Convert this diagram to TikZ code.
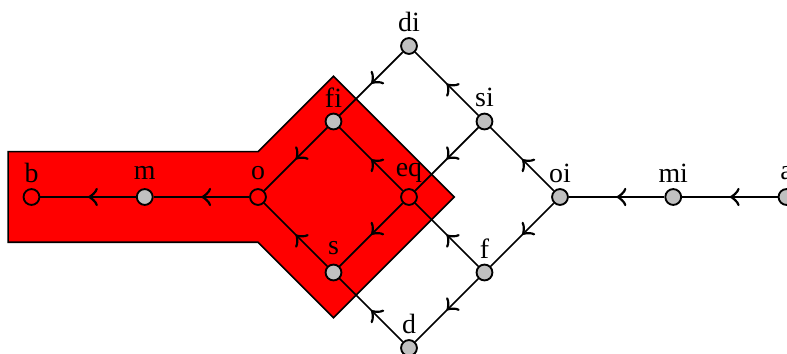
\documentclass[tikz,border=0pt]{standalone}
\usepackage{fontspec}
\setmainfont{Liberation Serif}
\usetikzlibrary{decorations.markings}
\definecolor{nodegray}{RGB}{192,192,192}
\tikzset{
  rel/.style={circle, draw=black, line width=0.7pt, minimum size=0.21cm, inner sep=0pt, fill=nodegray,
    label={[anchor=center, label distance=0.2cm, font=\fontsize{10.5}{12}\selectfont]above:#1}},
  redrel/.style={rel=#1, fill=red},
  edge/.style={line width=0.65pt, postaction={decorate, decoration={markings, mark=at position 0.5 with {\arrow[scale=1.6]{to}}}}},
  region/.style={fill=red, draw=black, line width=0.6pt}
}
\begin{document}
\begin{tikzpicture}
\useasboundingbox (-3.417,-2.079) rectangle (7.007,2.609);
\draw[region] (-3.31,0.6) -- (0,0.6) -- (1,1.6) -- (2.6,0) -- (1,-1.6) -- (0,-0.6) -- (-3.31,-0.6) -- cycle;
\node[redrel=b] (b) at (-3,0) {};
\node[rel=m] (m) at (-1.5,0) {};
\node[redrel=o] (o) at (0,0) {};
\node[rel=fi] (fi) at (1,1) {};
\node[redrel=eq] (eq) at (2,0) {};
\node[rel=s] (s) at (1,-1) {};
\node[rel=di] (di) at (2,2) {};
\node[rel=si] (si) at (3,1) {};
\node[rel=oi] (oi) at (4,0) {};
\node[rel=f] (f) at (3,-1) {};
\node[rel=d] (d) at (2,-2) {};
\node[rel=mi] (mi) at (5.5,0) {};
\node[rel=a] (a) at (7,0) {};
\draw[edge] (a) -- (mi);
\draw[edge] (mi) -- (oi);
\draw[edge] (oi) -- (si);
\draw[edge] (oi) -- (f);
\draw[edge] (si) -- (di);
\draw[edge] (si) -- (eq);
\draw[edge] (f) -- (eq);
\draw[edge] (f) -- (d);
\draw[edge] (di) -- (fi);
\draw[edge] (d) -- (s);
\draw[edge] (eq) -- (fi);
\draw[edge] (eq) -- (s);
\draw[edge] (fi) -- (o);
\draw[edge] (s) -- (o);
\draw[edge] (o) -- (m);
\draw[edge] (m) -- (b);
\end{tikzpicture}
\end{document}
